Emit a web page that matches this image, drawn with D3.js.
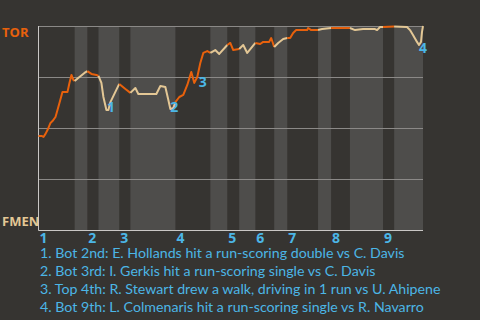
<!DOCTYPE html>
<html><head><meta charset="utf-8">
<script src="https://cdn.jsdelivr.net/npm/d3@7"></script>
<style>
html,body{margin:0;padding:0;background:#363431;}
svg{display:block;}
</style></head>
<body>
<svg id="c" width="480" height="320"></svg>
<script>
// ---- data ----
const teams = ["TOR", "FMEN"];               // away (top), home (bottom)
const inningLabels = ["1","2","3","4","5","6","7","8","9"];
// start of each half-inning on the game-progress axis (0..100); last value = game end
const halfInningStarts = [0, 9.4, 12.7, 15.6, 21.0, 23.9, 35.6, 44.7, 49.1, 52.2, 56.4, 61.3, 64.7, 72.7, 76.1, 81.0, 89.6, 92.5, 100];
// game progress
const progress = [0,0.78,1.3,1.82,2.34,3.12,3.64,4.42,4.94,5.45,6.23,7.53,8.05,8.57,9.09,9.4,10.65,11.95,12.7,13.77,15.06,15.6,16.36,16.88,17.66,18.18,18.7,21.0,22.6,23.9,25.19,25.97,30.65,31.69,32.99,33.77,34.29,35.06,35.6,36.62,37.66,38.7,39.74,40.52,41.3,42.08,42.86,43.9,44.7,45.97,47.01,49.1,49.87,50.65,52.2,53.25,54.29,56.4,57.66,58.44,60.0,60.52,61.3,62.34,63.64,64.7,65.45,66.23,67.01,69.87,70.13,70.91,72.7,73.77,76.1,81.0,82.34,84.42,87.53,88.05,88.83,89.6,92.5,95.84,96.62,97.4,98.44,98.96,99.48,99.74,100];
// TOR win probability at each point
const torWinProb = [0.461,0.461,0.456,0.471,0.490,0.525,0.534,0.554,0.588,0.623,0.676,0.676,0.721,0.760,0.735,0.730,0.750,0.770,0.779,0.765,0.760,0.755,0.721,0.652,0.588,0.588,0.627,0.716,0.691,0.672,0.696,0.667,0.667,0.706,0.701,0.637,0.593,0.598,0.627,0.652,0.662,0.711,0.775,0.721,0.750,0.819,0.868,0.877,0.868,0.882,0.863,0.907,0.917,0.882,0.887,0.907,0.868,0.917,0.912,0.922,0.922,0.941,0.897,0.917,0.936,0.941,0.941,0.966,0.980,0.980,0.990,0.980,0.980,0.985,0.990,0.990,0.980,0.985,0.985,0.980,0.995,0.995,0.998,0.995,0.980,0.956,0.922,0.907,0.922,0.971,1.0];
// key events
const eventProgress = [18.18, 35.06, 40.52, 98.96];
const eventTexts = [
  "1. Bot 2nd: E. Hollands hit a run-scoring double vs C. Davis",
  "2. Bot 3rd: I. Gerkis hit a run-scoring single vs C. Davis",
  "3. Top 4th: R. Stewart drew a walk, driving in 1 run vs U. Ahipene",
  "4. Bot 9th: L. Colmenaris hit a run-scoring single vs R. Navarro"
];
const yTicks = [0.25, 0.5, 0.75, 1];

// ---- style ----
const C = {bg:"#363431", band:"#4e4d4b", grid:"#8b8987", axis:"#c9c7c5", top:"#e8610c", bot:"#e3c795", note:"#4cb6e6"};
const eventOffsets = [[2.5,2],[1,4],[8.5,4],[4,8]];

const svg = d3.select("#c");
const x = d3.scaleLinear().domain([0,100]).range([38.5,423]);
const y = d3.scaleLinear().domain([0,1]).range([230,26]);

svg.append("rect").attr("width",480).attr("height",320).attr("fill",C.bg);

// bottom-half bands
const halves = d3.range(halfInningStarts.length-1).map(i=>({i, s:halfInningStarts[i], e:halfInningStarts[i+1]}));
svg.append("g").selectAll("rect").data(halves.filter(h=>h.i%2===1)).join("rect")
  .attr("x",d=>x(d.s)).attr("width",d=>x(d.e)-x(d.s))
  .attr("y",y(1)).attr("height",y(0)-y(1)).attr("fill",C.band);

// grid
svg.append("g").selectAll("line").data(yTicks).join("line")
  .attr("x1",x(0)).attr("x2",x(100)).attr("y1",d=>Math.round(y(d))+0.5).attr("y2",d=>Math.round(y(d))+0.5)
  .attr("stroke",C.grid).attr("stroke-width",1);
// axes
svg.append("line").attr("x1",x(0)).attr("x2",x(0)).attr("y1",y(1)).attr("y2",y(0)+0.5).attr("stroke",C.axis);
svg.append("line").attr("x1",x(0)).attr("x2",x(100)).attr("y1",y(0)+0.5).attr("y2",y(0)+0.5).attr("stroke",C.axis);

// lines per half-inning
const pts = progress.map((t,i)=>[t, torWinProb[i]]);
const line = d3.line().x(d=>x(d[0])).y(d=>y(d[1]));
svg.append("g").selectAll("path").data(halves).join("path")
  .attr("d",h=>line(pts.filter(p=>p[0]>=h.s-1e-9 && p[0]<=h.e+1e-9)))
  .attr("fill","none").attr("stroke",h=>h.i%2===0?C.top:C.bot)
  .attr("stroke-width",2).attr("stroke-linejoin","round");

// team labels
svg.append("text").attr("x",2).attr("y",37).text(teams[0])
  .attr("font-family","Open Sans").attr("font-weight","bold").attr("font-size",13).attr("fill",C.top);
svg.append("text").attr("x",2).attr("y",226).text(teams[1])
  .attr("font-family","Open Sans").attr("font-weight","bold").attr("font-size",13).attr("fill",C.bot);

// inning labels
svg.append("g").selectAll("text").data(inningLabels).join("text")
  .attr("x",(d,i)=>x(halfInningStarts[i*2])+1).attr("y",243).text(d=>d)
  .attr("font-family","Open Sans").attr("font-weight","bold").attr("font-size",14).attr("fill",C.note);

// event markers
function probAt(t){ const i=progress.indexOf(t); return torWinProb[i]; }
svg.append("g").selectAll("text").data(eventProgress).join("text")
  .attr("x",(t,i)=>x(t)+eventOffsets[i][0]).attr("y",(t,i)=>y(probAt(t))+eventOffsets[i][1])
  .attr("text-anchor","middle").text((t,i)=>i+1)
  .attr("font-family","Open Sans").attr("font-weight","bold").attr("font-size",14).attr("fill",C.note);

// notes
svg.append("g").selectAll("text").data(eventTexts).join("text")
  .attr("x",40).attr("y",(d,i)=>258+i*18).text(d=>d)
  .attr("font-family","Lato").attr("font-size",14.2).attr("fill",C.note);
</script>
</body></html>
